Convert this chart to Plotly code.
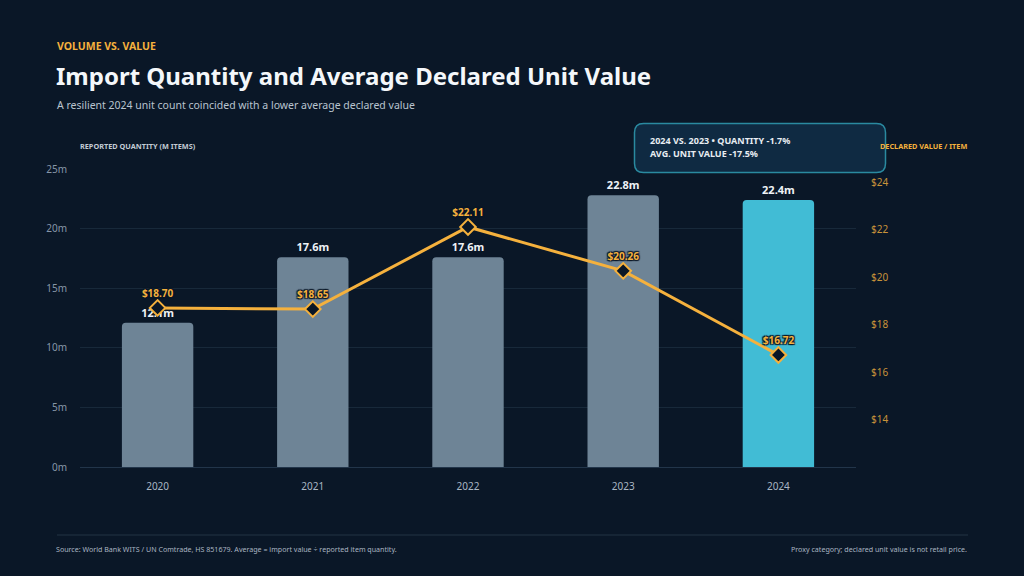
import plotly.graph_objects as go

years = ["2020", "2021", "2022", "2023", "2024"]
quantity_m = [12.1, 17.6, 17.6, 22.8, 22.4]
unit_value = [18.70, 18.65, 22.11, 20.26, 16.72]
bar_colors = ["#6e8496", "#6e8496", "#6e8496", "#6e8496", "#41bcd5"]
left_ticks = [0, 5, 10, 15, 20, 25]
left_tick_labels = ["0m", "5m", "10m", "15m", "20m", "25m"]
right_ticks = [14, 16, 18, 20, 22, 24]
right_tick_labels = ["$14", "$16", "$18", "$20", "$22", "$24"]

BG = "#0a1727"
ORANGE = "#f5b13d"
FONT = "Noto Sans"

# plot area in pixels
L, R, T, B = 80, 856, 169, 467
W, H = R - L, B - T


def px(x):
    return (x - L) / W


def py(y):
    return (B - y) / H


fig = go.Figure()
fig.add_trace(go.Bar(
    x=years, y=quantity_m,
    marker=dict(color=bar_colors, line=dict(width=0), cornerradius=4),
    texttemplate="%{y:.1f}m", textposition="outside",
    textfont=dict(color="#eef2f6", size=11, family=FONT, weight="bold"),
    cliponaxis=False, width=0.46, hoverinfo="skip",
))
fig.add_trace(go.Scatter(
    x=years, y=unit_value, yaxis="y2",
    mode="lines+markers+text",
    line=dict(color=ORANGE, width=3),
    marker=dict(symbol="diamond", size=12, color=BG, line=dict(color=ORANGE, width=2)),
    text=["$%.2f" % v for v in unit_value], textposition="top center",
    textfont=dict(color=ORANGE, size=10, family=FONT, weight="bold",
                  shadow="1px 1px 1px #0a1727, -1px -1px 1px #0a1727, 1px -1px 1px #0a1727, -1px 1px 1px #0a1727"),
    cliponaxis=False, hoverinfo="skip",
))

fig.update_layout(
    width=1024, height=576,
    margin=dict(l=L, r=1024 - R, t=T, b=576 - B),
    paper_bgcolor=BG, plot_bgcolor=BG,
    showlegend=False,
    font=dict(family=FONT, color="#c5ced8"),
    xaxis=dict(type="category", range=[-0.5, 4.5], showgrid=False, zeroline=False,
               showline=False, ticks="", tickfont=dict(size=10, color="#a9b6c3"),
               ticklabelstandoff=12),
    yaxis=dict(range=[0, 25], tickvals=left_ticks, ticktext=left_tick_labels,
               showgrid=True, gridcolor="#18293a", gridwidth=1,
               zeroline=True, zerolinecolor="#22354a", zerolinewidth=1,
               showline=False, ticks="", tickfont=dict(size=10, color="#8696a7"),
               ticklabelstandoff=12),
    yaxis2=dict(range=[12.0, 24.55], overlaying="y", side="right",
                tickvals=right_ticks, ticktext=right_tick_labels,
                showgrid=False, zeroline=False, showline=False, ticks="",
                tickfont=dict(size=10, color="#c8933a"), ticklabelstandoff=14),
    bargap=0.54,
)

# rounded box path
bx0, bx1, by0, by1, rr = 634.5, 885.5, 123.5, 172.5, 9


def rounded(x0, x1, y0, y1, r):
    pts = [
        f"M {px(x0 + r)},{py(y0)}",
        f"L {px(x1 - r)},{py(y0)}",
        f"Q {px(x1)},{py(y0)} {px(x1)},{py(y0 + r)}",
        f"L {px(x1)},{py(y1 - r)}",
        f"Q {px(x1)},{py(y1)} {px(x1 - r)},{py(y1)}",
        f"L {px(x0 + r)},{py(y1)}",
        f"Q {px(x0)},{py(y1)} {px(x0)},{py(y1 - r)}",
        f"L {px(x0)},{py(y0 + r)}",
        f"Q {px(x0)},{py(y0)} {px(x0 + r)},{py(y0)}",
        "Z",
    ]
    return " ".join(pts)


fig.add_shape(type="path", xref="paper", yref="paper", path=rounded(bx0, bx1, by0, by1, rr),
              fillcolor="#0f2a42", line=dict(color="#2a8aa0", width=1.5), layer="above")
fig.add_shape(type="line", xref="paper", yref="paper", x0=px(57), x1=px(968), y0=py(535), y1=py(535),
              line=dict(color="#1b2b3b", width=1.5))


def ann(text, x, y, size, color, bold=False, xanchor="left"):
    fig.add_annotation(text=text, xref="paper", yref="paper", x=px(x), y=py(y),
                       xanchor=xanchor, yanchor="middle", showarrow=False,
                       font=dict(family=FONT, size=size, color=color, weight="bold" if bold else "normal"))


ann("VOLUME VS. VALUE", 55, 46, 10.5, ORANGE, True)
ann("Import Quantity and Average Declared Unit Value", 54, 76, 24, "#f4f7fa", True)
ann("A resilient 2024 unit count coincided with a lower average declared value", 55, 105, 10.5, "#b9c4cf")
ann("REPORTED QUANTITY (M ITEMS)", 78, 146, 7.3, "#c3ccd5", True)
ann("DECLARED VALUE / ITEM", 969, 146, 7.3, ORANGE, True, "right")
ann("2024 VS. 2023 • QUANTITY -1.7%", 648, 140, 9, "#e8edf2", True)
ann("AVG. UNIT VALUE -17.5%", 648, 153.5, 9, "#e8edf2", True)
ann("Source: World Bank WITS / UN Comtrade, HS 851679. Average = import value ÷ reported item quantity.",
    54, 549, 7.1, "#a9b5c1")
ann("Proxy category; declared unit value is not retail price.", 969, 549, 7.1, "#a9b5c1", False, "right")

fig.write_html("out.html")
